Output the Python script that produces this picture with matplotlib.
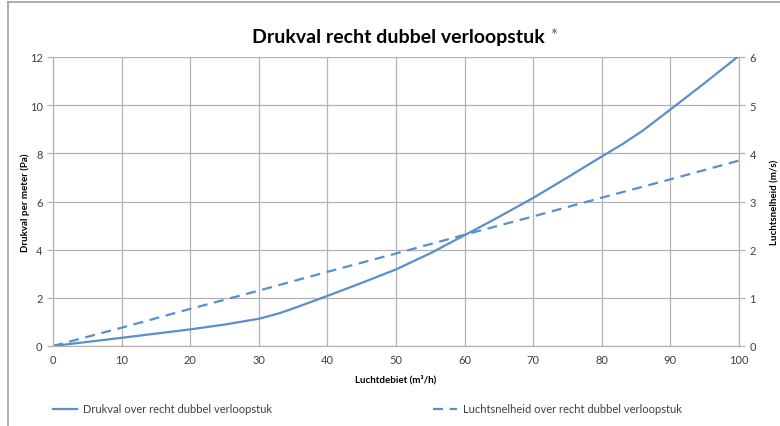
import matplotlib.pyplot as plt
from matplotlib.lines import Line2D

# Luchtdebiet (m3/h)
debiet = [0, 10, 20, 25, 30, 33, 36, 40, 45, 50, 55, 60, 65, 70, 75, 80, 83, 86, 90, 95, 100]
# Drukval per meter (Pa)
drukval = [0, 0.34, 0.69, 0.89, 1.13, 1.36, 1.66, 2.08, 2.62, 3.18, 3.85, 4.60, 5.36, 6.15,
           7.00, 7.87, 8.38, 8.95, 9.82, 10.92, 12.05]

debiet_v = [0, 10, 20, 30, 40, 50, 60, 70, 80, 90, 100]
# Luchtsnelheid (m/s)
snelheid = [0, 0.38, 0.77, 1.15, 1.54, 1.92, 2.31, 2.69, 3.08, 3.46, 3.85]

blauw = "#5a8fcb"
grijs = "#b3b3b3"
tekst = "#404040"

plt.rcParams["font.family"] = ["Lato", "DejaVu Sans"]

fig = plt.figure(figsize=(7.8, 4.27), dpi=100)
ax = fig.add_axes([53 / 780, 1 - 347 / 427, 686 / 780, 289 / 427])
ax2 = ax.twinx()

ax.plot(debiet, drukval, color=blauw, lw=1.6, solid_joinstyle="round")
ax2.plot(debiet_v, snelheid, color=blauw, lw=1.6, ls=(0, (4.5, 3)))

ax.set_xlim(0, 100)
ax.set_ylim(0, 12)
ax2.set_ylim(0, 6)
ax.set_xticks(range(0, 101, 10))
ax.set_yticks(range(0, 13, 2))
ax2.set_yticks(range(0, 7))

ax.grid(True, color=grijs, lw=0.9)
ax.set_axisbelow(True)
for a in (ax, ax2):
    for s in a.spines.values():
        s.set_color(grijs)
    a.spines["top"].set_visible(False)
    a.tick_params(colors=grijs, labelcolor=tekst, labelsize=8, length=4, width=0.9)
ax.tick_params(axis="x", length=0, pad=6)

ax.set_xlabel("Luchtdebiet (m³/h)", fontsize=7, fontweight="bold", labelpad=6)
ax.set_ylabel("Drukval per meter (Pa)", fontsize=7, fontweight="bold")
ax2.set_ylabel("Luchtsnelheid (m/s)", fontsize=7, fontweight="bold", rotation=90)
ax.yaxis.set_label_coords((30 - 53) / 686, 0.5)
ax2.yaxis.set_label_coords((770 - 53) / 686, 0.5)

titel = fig.text(398 / 780, 1 - 37 / 427, "Drukval recht dubbel verloopstuk",
                 ha="center", va="center", fontsize=14, fontweight="bold")
fig.canvas.draw()
ax.annotate("*", xy=(1, 1), xycoords=titel, xytext=(4, 0), textcoords="offset points",
            ha="left", va="top", fontsize=12, color="#606060", annotation_clip=False)

# rand van de grafiek
fig.add_artist(Line2D([8 / 780, 8 / 780], [0, 1 - 3 / 427], color="#a0a0a0", lw=1.2))
fig.add_artist(Line2D([8 / 780, 1], [1 - 3 / 427, 1 - 3 / 427], color="#a0a0a0", lw=1.2))

h1 = Line2D([], [], color=blauw, lw=1.6)
h2 = Line2D([], [], color=blauw, lw=1.6, ls=(0, (4.5, 3)))
for h, lab, x in [(h1, "Drukval over recht dubbel verloopstuk", 53),
                  (h2, "Luchtsnelheid over recht dubbel verloopstuk", 433)]:
    fig.legend(handles=[h], labels=[lab], loc="center left", frameon=False,
               bbox_to_anchor=(x / 780, 1 - 410 / 427), borderpad=0, borderaxespad=0,
               handlelength=2.2, handletextpad=0.5, fontsize=8, labelcolor=tekst)

fig.savefig("out.png", dpi=100)
